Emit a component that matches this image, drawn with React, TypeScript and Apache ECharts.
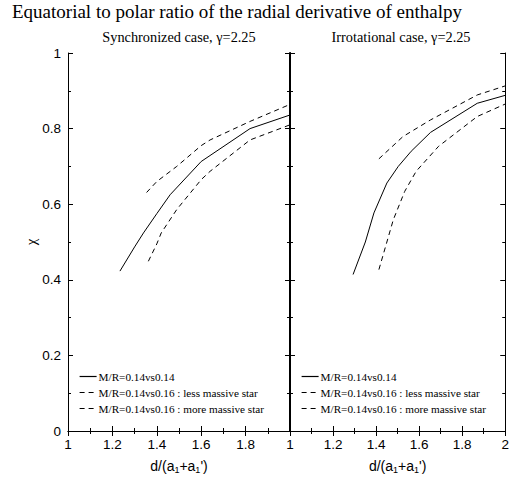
import React, { useEffect, useRef } from "react";
import * as echarts from "echarts";

const seriesNames = [
  "M/R=0.14vs0.14",
  "M/R=0.14vs0.16 : less massive star",
  "M/R=0.14vs0.16 : more massive star",
];

// Synchronized case
const syncSolidX = [1.234, 1.3, 1.34, 1.4, 1.46, 1.6, 1.82, 2.0];
const syncSolidY = [0.423, 0.487, 0.524, 0.575, 0.625, 0.713, 0.8, 0.836];
const syncLessX = [1.362, 1.4, 1.42, 1.49, 1.6, 1.64, 1.82, 2.0];
const syncLessY = [0.449, 0.495, 0.524, 0.586, 0.665, 0.687, 0.77, 0.81];
const syncMoreX = [1.354, 1.4, 1.49, 1.6, 1.64, 1.82, 2.0];
const syncMoreY = [0.631, 0.66, 0.7, 0.755, 0.77, 0.819, 0.864];

// Irrotational case
const irrSolidX = [1.293, 1.35, 1.39, 1.45, 1.503, 1.563, 1.653, 1.87, 2.0];
const irrSolidY = [0.414, 0.5, 0.577, 0.656, 0.7, 0.74, 0.79, 0.867, 0.888];
const irrLessX = [1.413, 1.48, 1.533, 1.586, 1.69, 1.87, 2.0];
const irrLessY = [0.427, 0.559, 0.634, 0.687, 0.753, 0.832, 0.865];
const irrMoreX = [1.413, 1.525, 1.653, 1.87, 2.0];
const irrMoreY = [0.72, 0.779, 0.823, 0.889, 0.913];

const xTicksMin = 1;
const xTicksMax = 2;
const yTicksMin = 0;
const yTicksMax = 1;

const mainTitle = "Equatorial to polar ratio of the radial derivative of enthalpy";
const panelTitles = ["Synchronized case, γ=2.25", "Irrotational case, γ=2.25"];

const zip = (xs: number[], ys: number[]) => xs.map((x, i) => [x, ys[i]]);

const SANS = "Liberation Sans";
const SERIF = "Liberation Serif";

export default function App() {
  const ref = useRef<HTMLDivElement>(null);
  useEffect(() => {
    if (!ref.current) return;
    const chart = echarts.init(ref.current, null, { renderer: "svg" });

    const tick = { show: true, inside: true, length: 5, lineStyle: { color: "#000" } };
    const minor = { show: true, splitNumber: 2, length: 3, lineStyle: { color: "#000" } };

    const xBase = (gridIndex: number, position: string, showLabel: boolean, hideMax: boolean) => ({
      type: "value",
      gridIndex,
      position,
      min: xTicksMin,
      max: xTicksMax,
      interval: 0.2,
      axisLine: { show: true, lineStyle: { color: "#000", width: 1 } },
      axisTick: tick,
      minorTick: minor,
      splitLine: { show: false },
      minorSplitLine: { show: false },
      axisLabel: showLabel
        ? {
            show: true,
            color: "#000",
            fontFamily: SANS,
            fontSize: 13.5,
            margin: 6,
            showMaxLabel: !hideMax,
          }
        : { show: false },
      ...(showLabel
        ? {
            name: "d/(a{s|1}+a{s|1}')",
            nameLocation: "middle",
            nameGap: 26,
            nameTextStyle: {
              color: "#000",
              fontFamily: SANS,
              fontSize: 14,
              rich: { s: { fontFamily: SANS, fontSize: 9, color: "#000", padding: [8, 0, 0, 0] } },
            },
          }
        : {}),
    });

    const yBase = (gridIndex: number, position: string, showLabel: boolean, lineWidth: number) => ({
      type: "value",
      gridIndex,
      position,
      min: yTicksMin,
      max: yTicksMax,
      interval: 0.2,
      axisLine: { show: true, lineStyle: { color: "#000", width: lineWidth } },
      axisTick: tick,
      minorTick: minor,
      splitLine: { show: false },
      minorSplitLine: { show: false },
      axisLabel: showLabel
        ? { show: true, color: "#000", fontFamily: SANS, fontSize: 13.5, margin: 7 }
        : { show: false },
      ...(showLabel
        ? {
            name: "χ",
            nameLocation: "middle",
            nameGap: 30,
            nameTextStyle: { color: "#000", fontFamily: SERIF, fontSize: 15 },
          }
        : {}),
    });

    const mk = (name: string, xi: number, data: number[][], dash: any) => ({
      name,
      type: "line",
      xAxisIndex: xi,
      yAxisIndex: xi,
      data,
      symbol: "none",
      showSymbol: false,
      lineStyle: { color: "#000", width: 1, type: dash },
      itemStyle: { color: "#000" },
      clip: true,
    });

    const legendBase = (left: number) => ({
      show: true,
      orient: "vertical",
      left,
      top: 371,
      padding: 0,
      itemWidth: 17,
      itemHeight: 8,
      itemGap: 5,
      data: seriesNames,
      selectedMode: false,
      itemStyle: { opacity: 0, borderWidth: 0 },
      lineStyle: { width: 1.2, color: "#000" },
      textStyle: { color: "#000", fontFamily: SERIF, fontSize: 11.2, padding: [0, 0, 0, -3] },
    });

    chart.setOption({
      animation: false,
      backgroundColor: "#fff",
      title: [
        {
          text: mainTitle,
          left: 12,
          top: 2,
          padding: 0,
          textStyle: { fontFamily: SERIF, fontSize: 19, fontWeight: "normal", color: "#000" },
        },
        {
          text: panelTitles[0],
          left: 179,
          top: 30,
          padding: 0,
          textAlign: "center",
          textStyle: { fontFamily: SERIF, fontSize: 14.3, fontWeight: "normal", color: "#000" },
        },
        {
          text: panelTitles[1],
          left: 401,
          top: 30,
          padding: 0,
          textAlign: "center",
          textStyle: { fontFamily: SERIF, fontSize: 14.3, fontWeight: "normal", color: "#000" },
        },
      ],
      grid: [
        { left: 68, top: 53, width: 222, height: 379 },
        { left: 290, top: 53, width: 221, height: 379 },
      ],
      xAxis: [
        xBase(0, "bottom", true, true),
        xBase(1, "bottom", true, false),
        xBase(0, "top", false, false),
        xBase(1, "top", false, false),
      ],
      yAxis: [
        yBase(0, "left", true, 1),
        yBase(1, "left", false, 1),
        yBase(0, "right", false, 2),
        yBase(1, "right", false, 1),
      ],
      legend: [legendBase(79), legendBase(301)],
      series: [
        mk(seriesNames[0], 0, zip(syncSolidX, syncSolidY), "solid"),
        mk(seriesNames[1], 0, zip(syncLessX, syncLessY), [5, 4]),
        mk(seriesNames[2], 0, zip(syncMoreX, syncMoreY), [5, 4]),
        mk(seriesNames[0], 1, zip(irrSolidX, irrSolidY), "solid"),
        mk(seriesNames[1], 1, zip(irrLessX, irrLessY), [5, 4]),
        mk(seriesNames[2], 1, zip(irrMoreX, irrMoreY), [5, 4]),
      ],
    });
    return () => chart.dispose();
  }, []);

  return <div ref={ref} style={{ width: 512, height: 479, position: "absolute", left: 0, top: 0 }} />;
}
